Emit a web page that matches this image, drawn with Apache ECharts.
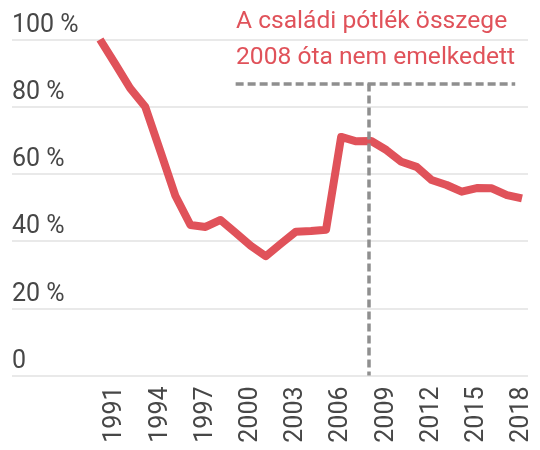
<!DOCTYPE html>
<html>
<head>
<meta charset="utf-8">
<script src="https://cdn.jsdelivr.net/npm/echarts@6/dist/echarts.min.js"></script>
<style>
html,body{margin:0;padding:0;background:#fff;}
#chart{width:540px;height:450px;}
</style>
</head>
<body>
<div id="chart"></div>
<script>
var years = [1990,1991,1992,1993,1994,1995,1996,1997,1998,1999,2000,2001,2002,2003,2004,2005,2006,2007,2008,2009,2010,2011,2012,2013,2014,2015,2016,2017,2018];
var values = [100,92.8,85.5,80,66.8,53.5,44.8,44.2,46.3,42.5,38.6,35.5,39.2,42.8,43.0,43.4,71.0,69.7,69.8,67.1,63.6,62.1,58.2,56.7,54.7,55.8,55.7,53.7,52.7];
var yTicks = [0,20,40,60,80,100];
var annotationLines = ['A családi pótlék összege', '2008 óta nem emelkedett'];
var markYear = 2007.8;
var markLevel = 86.9;
var markFrom = 1999;
var markTo = 2017.55;

var RED = '#e0525a';
var GRAY_TXT = '#474747';
var FONT = 'Roboto';

var chart = echarts.init(document.getElementById('chart'), null, {renderer:'canvas'});
var dashStyle = {color:'#8f8f8f', width:3.5, type:[8,4]};

chart.setOption({
  animation:false,
  grid:[
    {left:12, right:12, top:39.5, height:336},
    {left:100, right:18, top:39.5, height:336}
  ],
  xAxis:[
    {gridIndex:0, type:'value', min:0, max:1, show:false},
    {gridIndex:1, type:'value', min:years[0], max:years[years.length-1], interval:1,
      axisLine:{show:false}, axisTick:{show:false}, splitLine:{show:false},
      axisLabel:{rotate:90, margin:11, color:GRAY_TXT, fontFamily:FONT, fontSize:25,
        formatter:function(v){ return ((v-1991)%3===0) ? String(v) : ''; }}
    }
  ],
  yAxis:[
    {gridIndex:0, type:'value', min:yTicks[0], max:yTicks[yTicks.length-1], interval:20,
      axisLine:{show:false}, axisTick:{show:false},
      splitLine:{lineStyle:{color:'#e9e9e9', width:2}},
      axisLabel:{inside:true, margin:0, align:'left', verticalAlign:'bottom', lineHeight:28,
        color:GRAY_TXT, fontFamily:FONT, fontSize:25,
        formatter:function(v){ return v===0 ? '0' : v+' %'; }}
    },
    {gridIndex:1, type:'value', min:yTicks[0], max:yTicks[yTicks.length-1], show:false}
  ],
  graphic:[
    {type:'text', x:236, y:22, style:{text:annotationLines[0], fill:RED, fontFamily:FONT, fontSize:24.6, verticalAlign:'middle', align:'left'}},
    {type:'text', x:236, y:57.5, style:{text:annotationLines[1], fill:RED, fontFamily:FONT, fontSize:24.6, verticalAlign:'middle', align:'left'}}
  ],
  series:[
    {type:'line', xAxisIndex:1, yAxisIndex:1,
      data: years.map(function(y,i){ return [y, values[i]]; }),
      showSymbol:false, symbol:'none', silent:true,
      lineStyle:{color:RED, width:8, join:'round'},
      z:3,
      markLine:{silent:true, symbol:'none', label:{show:false}, lineStyle:dashStyle, emphasis:{disabled:true},
        data:[
          [{coord:[markYear, markLevel]},{coord:[markYear, 0]}],
          [{coord:[markFrom, markLevel]},{coord:[markTo, markLevel]}]
        ]}
    }
  ]
});
</script>
</body>
</html>
